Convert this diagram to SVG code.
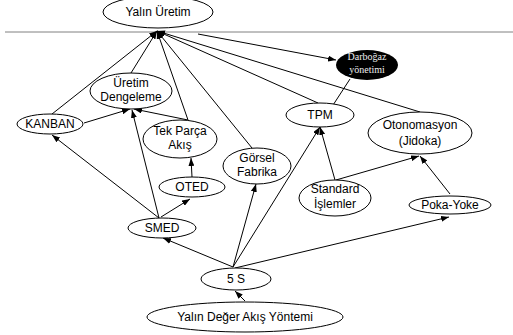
<svg xmlns="http://www.w3.org/2000/svg" width="513" height="335" viewBox="0 0 513 335">
<defs>
<marker id="ah" markerUnits="userSpaceOnUse" markerWidth="8" markerHeight="6" refX="8" refY="3" orient="auto">
<path d="M0,0 L8,3 L0,6 z" fill="#000"/>
</marker>
</defs>
<style>
.n ellipse{fill:#fff;stroke:#000;stroke-width:1}
.n text{font-family:"Liberation Sans",Arial,sans-serif;font-size:12px;fill:#000;text-anchor:middle}
#edges line{stroke:#000;stroke-width:1;marker-end:url(#ah)}
.dt{font-family:"Liberation Serif","Times New Roman",serif;font-size:10px;fill:#eee;text-anchor:middle}
</style>
<rect width="513" height="335" fill="#fff"/>
<line x1="5" y1="32" x2="513" y2="32" stroke="#808080" stroke-width="1"/>
<g id="edges">
<line x1="52" y1="114" x2="157" y2="31"/>
<line x1="131" y1="73" x2="157" y2="31"/>
<line x1="188" y1="120" x2="157" y2="31"/>
<line x1="252" y1="148" x2="157" y2="31"/>
<line x1="318" y1="103" x2="157" y2="31"/>
<line x1="420" y1="112" x2="157" y2="31"/>
<line x1="198" y1="34" x2="336" y2="60"/>
<line x1="84" y1="123" x2="130" y2="109"/>
<line x1="188" y1="120" x2="134" y2="109"/>
<line x1="159" y1="218" x2="132" y2="110"/>
<line x1="159" y1="218" x2="52" y2="135"/>
<line x1="161" y1="217" x2="190" y2="199"/>
<line x1="192" y1="177" x2="191" y2="158"/>
<line x1="233" y1="267" x2="163" y2="238"/>
<line x1="233" y1="267" x2="256" y2="184"/>
<line x1="233" y1="267" x2="320" y2="127"/>
<line x1="235" y1="268" x2="449" y2="217"/>
<line x1="335" y1="180" x2="320" y2="127"/>
<line x1="336" y1="180" x2="419" y2="156"/>
<line x1="450" y1="194" x2="420" y2="156"/>
<line x1="350" y1="79" x2="322" y2="122"/>
<line x1="245" y1="301" x2="235" y2="291"/>
</g>
<g id="yalin-uretim" class="n"><ellipse cx="158" cy="12" rx="55" ry="16"/><text x="158" y="16">Yalın Üretim</text></g>
<g id="darbogaz"><ellipse cx="367" cy="65" rx="31" ry="15" fill="#000"/><text class="dt" x="367" y="60">Darboğaz</text><text class="dt" x="367" y="73">yönetimi</text></g>
<g id="uretim-dengeleme" class="n"><ellipse cx="131" cy="91" rx="41" ry="18"/><text x="131" y="87">Üretim</text><text x="131" y="101">Dengeleme</text></g>
<g id="kanban" class="n"><ellipse cx="50" cy="124" rx="33" ry="10"/><text x="50" y="128">KANBAN</text></g>
<g id="tek-parca" class="n"><ellipse cx="180" cy="139" rx="37" ry="19"/><text x="180" y="135">Tek Parça</text><text x="180" y="149">Akış</text></g>
<g id="oted" class="n"><ellipse cx="192" cy="187" rx="33" ry="10"/><text x="192" y="191">OTED</text></g>
<g id="gorsel" class="n"><ellipse cx="257" cy="166" rx="34" ry="18"/><text x="257" y="162">Görsel</text><text x="257" y="176">Fabrika</text></g>
<g id="smed" class="n"><ellipse cx="162" cy="228" rx="34" ry="10"/><text x="162" y="232">SMED</text></g>
<g id="tpm" class="n"><ellipse cx="320" cy="115" rx="34" ry="12"/><text x="320" y="119">TPM</text></g>
<g id="otonomasyon" class="n"><ellipse cx="420" cy="133" rx="52" ry="21"/><text x="420" y="129">Otonomasyon</text><text x="420" y="145">(Jidoka)</text></g>
<g id="standard" class="n"><ellipse cx="335" cy="198" rx="36" ry="18"/><text x="335" y="193">Standard</text><text x="335" y="208">İşlemler</text></g>
<g id="poka-yoke" class="n"><ellipse cx="450" cy="205" rx="41" ry="9"/><text x="450" y="209">Poka-Yoke</text></g>
<g id="bes-s" class="n"><ellipse cx="236" cy="279" rx="35" ry="11"/><text x="236" y="283">5 S</text></g>
<g id="yalin-deger" class="n"><ellipse cx="245" cy="317" rx="98" ry="15"/><text x="245" y="321">Yalın Değer Akış Yöntemi</text></g>
</svg>
